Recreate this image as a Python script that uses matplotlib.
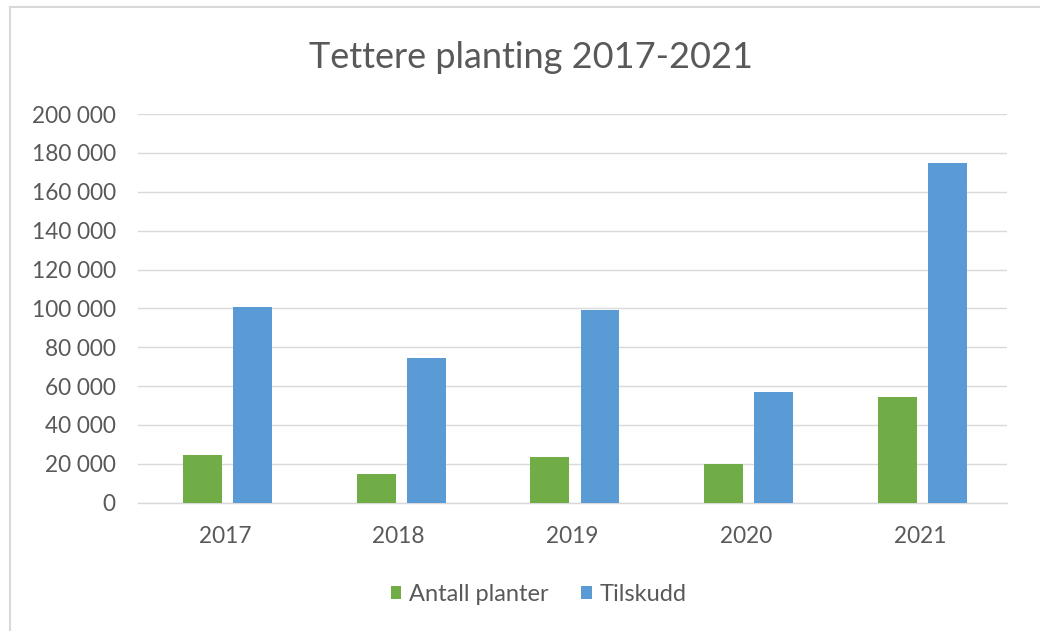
import matplotlib
matplotlib.use("Agg")
import matplotlib.pyplot as plt
import numpy as np
from matplotlib.ticker import FuncFormatter, MultipleLocator
from matplotlib.lines import Line2D

plt.rcParams['font.family'] = ['Lato', 'DejaVu Sans']

# data
years = ["2017", "2018", "2019", "2020", "2021"]
antall_planter = [24700, 14800, 23300, 19700, 54200]
tilskudd = [100500, 74300, 99100, 57000, 175000]

green = "#70AD47"
blue = "#5B9BD5"
txt = "#595959"
grid = "#D9D9D9"

fig = plt.figure(figsize=(10.4, 6.31), dpi=100)
ax = fig.add_axes([0.1327, 0.2033, 0.8356, 0.616])

x = np.arange(len(years))
w = 0.224
off = 0.144
shift = 0.014
ax.bar(x - off + shift, antall_planter, w, color=green, label="Antall planter", zorder=3)
ax.bar(x + off + shift, tilskudd, w, color=blue, label="Tilskudd", zorder=3)

ax.set_xlim(-0.5, len(years) - 0.5)
ax.set_ylim(0, 200000)
ax.yaxis.set_major_locator(MultipleLocator(20000))
ax.yaxis.set_major_formatter(FuncFormatter(lambda v, p: f"{int(v):,}".replace(",", " ")))
ax.set_xticks(x)
ax.set_xticklabels(years)
ax.grid(axis="y", color=grid, linewidth=1.0, zorder=0)
for s in ["top", "right", "left"]:
    ax.spines[s].set_visible(False)
ax.spines["bottom"].set_color(grid)
ax.spines["bottom"].set_linewidth(1.0)
ax.tick_params(axis="both", length=0, labelsize=16.3, colors=txt)
ax.tick_params(axis="y", pad=16)
ax.tick_params(axis="x", pad=17)

fig.text(0.511, 0.909, "Tettere planting 2017-2021", ha="center", va="center",
         fontsize=26, color=txt)

leg = fig.legend(loc="center", bbox_to_anchor=(0.518, 0.058), ncol=2, frameon=False,
                 fontsize=17, labelcolor=txt, handlelength=0.45, handleheight=0.45,
                 handletextpad=0.34, columnspacing=1.35)

# chart frame (left and top edges only visible in the screenshot)
fig.add_artist(Line2D([10 / 1040, 10 / 1040], [0, 1 - 7 / 631], transform=fig.transFigure,
                      color=grid, linewidth=1.5))
fig.add_artist(Line2D([10 / 1040, 1], [1 - 7 / 631, 1 - 7 / 631], transform=fig.transFigure,
                      color=grid, linewidth=1.5))

fig.savefig("out.png", dpi=100)
